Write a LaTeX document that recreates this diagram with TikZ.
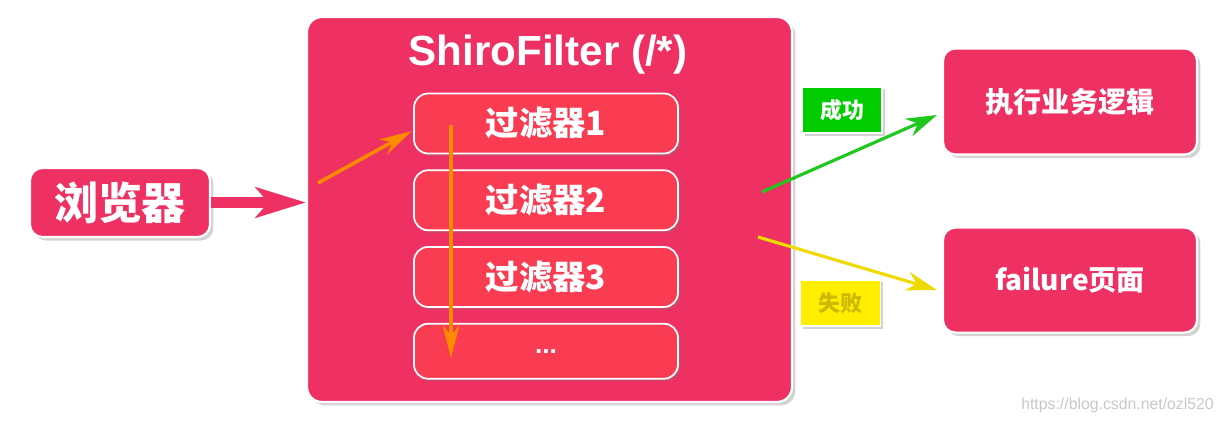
\documentclass[tikz,border=0pt]{standalone}
\usepackage{fontspec}
\setmainfont{Liberation Sans}
\newfontfamily\cjk{Noto Sans CJK SC}
\usetikzlibrary{arrows.meta,positioning,shadows}
\definecolor{boxpink}{RGB}{238,48,98}
\definecolor{boxred}{RGB}{250,60,82}
\definecolor{okgreen}{RGB}{0,204,0}
\definecolor{linegreen}{RGB}{30,200,30}
\definecolor{failyellow}{RGB}{255,238,0}
\definecolor{lineyellow}{RGB}{238,218,0}
\definecolor{failtext}{RGB}{205,185,0}
\definecolor{floworange}{RGB}{255,140,0}
\definecolor{markgray}{RGB}{200,200,200}

\begin{document}
\begin{tikzpicture}[
    x=0.02cm, y=-0.02cm,
    node distance=0.3cm,
    bigbox/.style={rectangle, draw=white, line width=1.2pt, fill=boxpink, rounded corners=0.25cm, align=center, text=white,
        drop shadow={shadow xshift=2pt, shadow yshift=-2pt, opacity=0.35}},
    filterbox/.style={rectangle, draw=white, line width=1pt, fill=boxred, rounded corners=0.28cm, text=white,
        minimum width=5.28cm, minimum height=1.2cm, font=\cjk\bfseries\fontsize{19}{22}\selectfont,
        drop shadow={shadow xshift=1.5pt, shadow yshift=-1.5pt, opacity=0.3}},
    tag/.style={rectangle, draw=white, line width=1pt, minimum width=1.6cm, minimum height=0.93cm,
        font=\cjk\bfseries\fontsize{12.5}{14}\selectfont,
        drop shadow={shadow xshift=1.5pt, shadow yshift=-1.5pt, opacity=0.35}},
    flow/.style={-{Stealth[length=0.66cm, width=0.34cm]}, line width=2pt, floworange},
    result/.style={-{Stealth[length=0.62cm, width=0.38cm]}, line width=1.8pt},
    bigarrow/.style={-{Stealth[length=1cm, width=0.6cm, inset=0.25cm]}, line width=0.22cm, boxpink}
]
    \useasboundingbox (0,0) rectangle (1228,425);

    \node[bigbox, minimum width=3.6cm, minimum height=1.38cm, font=\cjk\bfseries\fontsize{25}{28}\selectfont] (browser) at (120,202.5) {浏览器};
    \node[bigbox, minimum width=9.7cm, minimum height=7.7cm, rounded corners=0.3cm] (shiro) at (549.5,209.5) {};
    \node[text=white, font=\bfseries\fontsize{24}{28}\selectfont] (title) at (548,55) {ShiroFilter (/*)};

    \node[filterbox] (f1) at (546,123.5) {过滤器1};
    \node[filterbox, below=of f1] (f2) {过滤器2};
    \node[filterbox, below=of f2] (f3) {过滤器3};
    \node[filterbox, below=of f3, minimum height=1.1cm, font=\bfseries\fontsize{15}{18}\selectfont] (fmore) {...};

    \node[bigbox, minimum width=5.08cm, minimum height=2.12cm, font=\cjk\bfseries\fontsize{16}{19}\selectfont] (biz) at (1070,101.5) {执行业务逻辑};
    \node[bigbox, minimum width=5.08cm, minimum height=2.1cm, below=1.42cm of biz, font=\cjk\bfseries\fontsize{16}{19}\selectfont] (fail) {failure页面};

    \node[tag, fill=okgreen, text=white] (ok) at (842,110) {成功};
    \node[tag, fill=failyellow, text=failtext] (ng) at (840.5,303) {失败};

    \node[text=markgray, font=\fontsize{9}{10}\selectfont, anchor=east] (mark) at (1220,405) {https://blog.csdn.net/ozl520};

    % arrows
    \coordinate (inA) at (318,183);
    \coordinate (inB) at (412,131);
    \coordinate (downA) at (451,125);
    \coordinate (downB) at (451,358);
    \coordinate (okA) at (762,192);
    \coordinate (okB) at (937,115);
    \coordinate (ngA) at (758,237);
    \coordinate (ngB) at (937,290);

    \draw[bigarrow] (browser.east) -- (browser.east -| shiro.west);
    \draw[flow] (inA) -- (inB);
    \draw[flow] (downA) -- (downB);
    \draw[result, linegreen] (okA) -- (okB);
    \draw[result, lineyellow] (ngA) -- (ngB);
\end{tikzpicture}
\end{document}
